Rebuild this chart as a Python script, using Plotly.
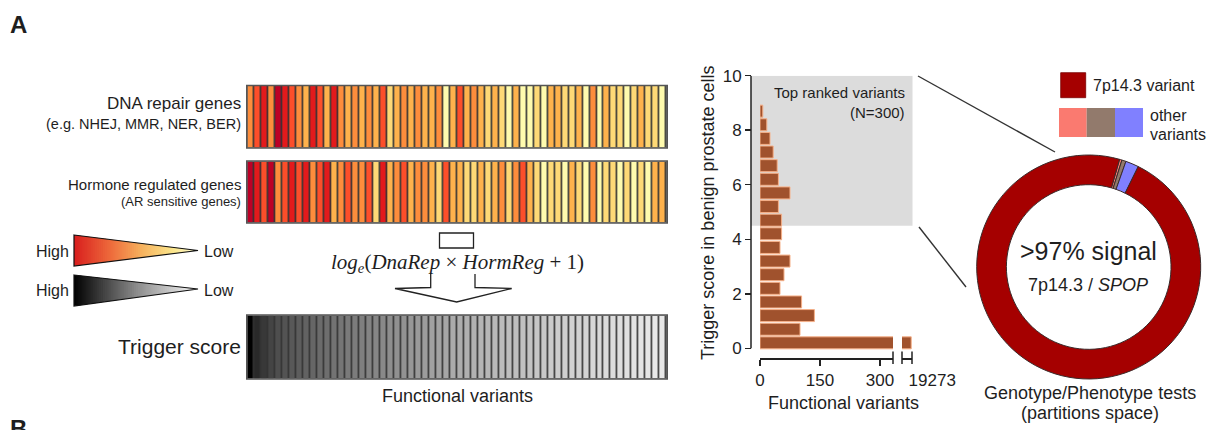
import plotly.graph_objects as go

W, H = 1220, 430

# ---------------- data ----------------
# heat levels: 1 = low (pale yellow) ... 7 = high (dark red)
dna_repair_levels = [4, 5, 6, 4, 7, 6, 5, 4, 3, 6,
                     5, 3, 6, 4, 3, 4, 3, 4, 3, 5,
                     2, 3, 4, 3, 4, 3, 3, 4, 1, 3,
                     5, 3, 4, 3, 2, 3, 2, 1, 3, 1,
                     1, 2, 1, 3, 3, 2, 2, 3, 1, 4,
                     1, 3, 2, 2, 1, 2, 3, 2, 2, 1]
hormone_levels = [7, 6, 5, 7, 4, 5, 6, 5, 6, 4,
                  5, 6, 3, 4, 5, 4, 4, 5, 2, 6,
                  3, 4, 5, 3, 4, 4, 3, 2, 5, 3,
                  3, 2, 2, 3, 2, 3, 4, 2, 4, 5,
                  3, 2, 1, 2, 2, 1, 3, 2, 1, 4,
                  1, 2, 2, 1, 2, 1, 2, 1, 3, 3]
trigger_scores = [10.0, 8.3, 7.7, 7.2, 6.8, 6.6, 6.4, 6.2, 6.0, 5.8,
                  5.6, 5.5, 5.3, 5.2, 5.0, 4.9, 4.8, 4.6, 4.5, 4.4,
                  4.2, 4.1, 4.0, 3.8, 3.7, 3.6, 3.4, 3.3, 3.2, 3.0,
                  2.9, 2.8, 2.7, 2.6, 2.5, 2.4, 2.3, 2.2, 2.2, 2.1,
                  2.0, 1.9, 1.8, 1.7, 1.6, 1.5, 1.4, 1.4, 1.3, 1.2,
                  1.1, 1.0, 1.0, 0.9, 0.8, 0.7, 0.7, 0.6, 0.5, 0.5]

score_bins = [0.2, 0.7, 1.2, 1.7, 2.2, 2.7, 3.2, 3.7, 4.2,
              4.7, 5.2, 5.7, 6.2, 6.7, 7.2, 7.7, 8.2, 8.7]
variant_counts = [19273, 100, 136, 104, 50, 60, 75, 50, 54,
                  54, 46, 75, 46, 43, 33, 25, 17, 7]
bar_xticks = [0, 150, 300]
bar_break_tick = [19273]
bar_yticks = [0, 2, 4, 6, 8, 10]
top_ranked_from = 4.5
top_ranked_to = 10

donut_labels = ["other variant 1", "other variant 2", "other variant 3", "7p14.3 variant"]
donut_values = [0.35, 0.6, 1.9, 97.15]
donut_colors = ["#FA7A70", "#927A6C", "#8080FF", "#A50000"]

FONT = "Liberation Sans"
TXT = "#1e1e1e"


def fx(p):
    return p / W


def fy(p):
    return 1 - p / H


fig = go.Figure()

# ---------------- heat strips ----------------
heat_scale = [[0.0, "#FFFBAE"], [1 / 6, "#FED976"], [2 / 6, "#FEB24C"],
              [3 / 6, "#FD8D3C"], [4 / 6, "#FC4E2A"], [5 / 6, "#E31A1C"],
              [1.0, "#BD0026"]]
cells = list(range(1, len(dna_repair_levels) + 1))
GAP = 1.6
fig.add_trace(go.Heatmap(z=[dna_repair_levels], x=cells, y=[0], colorscale=heat_scale,
                         zmin=1, zmax=7, showscale=False, xgap=GAP, xaxis="x", yaxis="y"))
fig.add_trace(go.Heatmap(z=[hormone_levels], x=cells, y=[0], colorscale=heat_scale,
                         zmin=1, zmax=7, showscale=False, xgap=GAP, xaxis="x2", yaxis="y2"))
fig.add_trace(go.Heatmap(z=[trigger_scores], x=cells, y=[0],
                         colorscale=[[0, "#F4F4F4"], [1, "#000000"]],
                         zmin=0, zmax=10, showscale=False, xgap=GAP, xaxis="x3", yaxis="y3"))

# ---------------- bar chart (broken x axis) ----------------
bar_style = dict(orientation="h", y=score_bins, x=variant_counts, width=0.44,
                 marker=dict(color="#A0522D", line=dict(color="#F6B088", width=1)),
                 showlegend=False, hoverinfo="skip")
fig.add_trace(go.Bar(xaxis="x4", yaxis="y4", **bar_style))
fig.add_trace(go.Bar(xaxis="x5", yaxis="y4", **bar_style))

# ---------------- donut ----------------
fig.add_trace(go.Pie(labels=donut_labels, values=donut_values, hole=0.735, sort=False,
                     direction="clockwise", rotation=16, textinfo="none",
                     marker=dict(colors=donut_colors, line=dict(color="#3a2a2a", width=1)),
                     domain=dict(x=[fx(976.7), fx(1200.7)], y=[fy(379), fy(155)]),
                     showlegend=False, hoverinfo="skip"))

hidden = dict(visible=False, fixedrange=True, automargin=False)
strip_x = [fx(247.3), fx(666.7)]
n = len(cells)
layout_axes = dict(
    xaxis=dict(domain=strip_x, range=[0.5, n + 0.5], anchor="y", **hidden),
    yaxis=dict(domain=[fy(147.5), fy(86)], range=[-0.5, 0.5], anchor="x", **hidden),
    xaxis2=dict(domain=strip_x, range=[0.5, n + 0.5], anchor="y2", **hidden),
    yaxis2=dict(domain=[fy(222.5), fy(161.5)], range=[-0.5, 0.5], anchor="x2", **hidden),
    xaxis3=dict(domain=strip_x, range=[0.5, n + 0.5], anchor="y3", **hidden),
    yaxis3=dict(domain=[fy(378.5), fy(315.5)], range=[-0.5, 0.5], anchor="x3", **hidden),
)

tickfont = dict(family=FONT, size=17, color=TXT)
y0px, y10px = 348.3, 75.7
unit = (y0px - y10px) / 10
xline_px = 358
y_low = -(xline_px - y0px) / unit

layout_axes.update(
    xaxis4=dict(domain=[fx(760), fx(893)], range=[0, 332.5], anchor="y4",
                showline=True, linecolor="#222", linewidth=1.5,
                ticks="outside", ticklen=6, tickwidth=1.5, tickcolor="#222",
                tickvals=bar_xticks, tickfont=tickfont, showgrid=False, zeroline=False,
                fixedrange=True, automargin=False),
    xaxis5=dict(domain=[fx(902), fx(912)], range=[19249, 19275], anchor="y4",
                showline=True, linecolor="#222", linewidth=1.5,
                ticks="", tickvals=bar_break_tick, ticktext=[str(v) for v in bar_break_tick],
                tickfont=tickfont, ticklabelshift=21, ticklabelstandoff=6,
                showgrid=False, zeroline=False, fixedrange=True, automargin=False),
    yaxis4=dict(domain=[fy(xline_px), fy(y10px)], range=[y_low, 10], anchor="free",
                position=fx(751), showline=False,
                ticks="outside", ticklen=6, tickwidth=1.5, tickcolor="#222",
                tickvals=bar_yticks, tickfont=tickfont, showgrid=False, zeroline=False,
                fixedrange=True, automargin=False),
)

shapes = []

# strip backgrounds (cell separators) and outlines
for (top, bot) in [(86, 147.5), (161.5, 222.5), (315.5, 378.5)]:
    shapes.append(dict(type="rect", xref="paper", yref="paper", layer="below",
                       x0=fx(247.3), x1=fx(666.7), y0=fy(bot), y1=fy(top),
                       fillcolor="#353535", line=dict(width=0)))
    shapes.append(dict(type="rect", xref="paper", yref="paper", layer="above",
                       x0=fx(246.8), x1=fx(667.2), y0=fy(bot + 0.5), y1=fy(top - 0.5),
                       fillcolor="rgba(0,0,0,0)", line=dict(color="#555", width=1.6)))

# gray "top ranked" region
shapes.append(dict(type="rect", xref="paper", yref="y4", layer="below",
                   x0=fx(751), x1=fx(912.5), y0=top_ranked_from, y1=top_ranked_to,
                   fillcolor="#DCDCDC", line=dict(width=0)))
# y axis spine from 0 to 10
shapes.append(dict(type="line", xref="paper", yref="y4", x0=fx(751), x1=fx(751),
                   y0=min(bar_yticks), y1=max(bar_yticks), line=dict(color="#222", width=1.5)))
# axis break marks
for bx in (893, 902, 912):
    shapes.append(dict(type="line", xref="paper", yref="paper", x0=fx(bx), x1=fx(bx),
                       y0=fy(351.5), y1=fy(364), line=dict(color="#222", width=1.5)))

# connector lines
shapes.append(dict(type="line", xref="paper", yref="paper", x0=fx(918), y0=fy(76),
                   x1=fx(1055), y1=fy(152), line=dict(color="#333", width=1.4)))
shapes.append(dict(type="line", xref="paper", yref="paper", x0=fx(919), y0=fy(227),
                   x1=fx(966), y1=fy(287), line=dict(color="#333", width=1.4)))


# gradient triangles
def hex2rgb(h):
    h = h.lstrip("#")
    return [int(h[i:i + 2], 16) for i in (0, 2, 4)]


def interp(stops, t):
    for i in range(len(stops) - 1):
        t0, c0 = stops[i]
        t1, c1 = stops[i + 1]
        if t0 <= t <= t1:
            a = (t - t0) / (t1 - t0)
            r0, r1 = hex2rgb(c0), hex2rgb(c1)
            return "rgb(%d,%d,%d)" % tuple(round(r0[k] + (r1[k] - r0[k]) * a) for k in range(3))
    return stops[-1][1]


def triangle(xl, yt, yb, xt, yt_tip, stops, nseg=60):
    out = []
    for i in range(nseg):
        a0, a1 = i / nseg, min(1, (i + 1.6) / nseg)
        xa, xb = xl + (xt - xl) * a0, xl + (xt - xl) * a1
        ta, tb = yt + (yt_tip - yt) * a0, yt + (yt_tip - yt) * a1
        ba, bb = yb + (yt_tip - yb) * a0, yb + (yt_tip - yb) * a1
        path = "M %f,%f L %f,%f L %f,%f L %f,%f Z" % (fx(xa), fy(ta), fx(xb), fy(tb),
                                                       fx(xb), fy(bb), fx(xa), fy(ba))
        out.append(dict(type="path", xref="paper", yref="paper", path=path,
                        fillcolor=interp(stops, (i + 0.5) / nseg), line=dict(width=0)))
    path = "M %f,%f L %f,%f L %f,%f Z" % (fx(xl), fy(yt), fx(xt), fy(yt_tip), fx(xl), fy(yb))
    out.append(dict(type="path", xref="paper", yref="paper", path=path,
                    fillcolor="rgba(0,0,0,0)", line=dict(color="#111", width=1.2)))
    return out


red_stops = [(0, "#D81E1E"), (0.3, "#EE6C3C"), (0.55, "#F6B25E"), (0.8, "#FBE68C"), (1, "#FFFCD8")]
gray_stops = [(0, "#000000"), (0.5, "#8A8A8A"), (1, "#FAFAFA")]
shapes += triangle(74, 235, 266, 198, 250.5, red_stops)
shapes += triangle(74, 275, 306, 198, 289, gray_stops)

# formula box and hollow arrow
shapes.append(dict(type="rect", xref="paper", yref="paper", x0=fx(439.5), x1=fx(473.5),
                   y0=fy(248), y1=fy(233), fillcolor="white", line=dict(color="#222", width=1.3)))
arrow = [(430.7, 274), (430.7, 287.5), (395, 288.5), (456.7, 302), (511.7, 288.5),
         (475, 287.5), (475, 274)]
shapes.append(dict(type="path", xref="paper", yref="paper",
                   path="M " + " L ".join("%f,%f" % (fx(a), fy(b)) for a, b in arrow),
                   fillcolor="white", line=dict(color="#222", width=1.3)))

# custom legend swatches
shapes.append(dict(type="rect", xref="paper", yref="paper", x0=fx(1060.7), x1=fx(1085.7),
                   y0=fy(97.7), y1=fy(72.7), fillcolor=donut_colors[3], line=dict(color="#7a0000", width=0.8)))
for (x0, x1, c) in [(1059, 1086.7, donut_colors[0]), (1086.7, 1115, donut_colors[1]),
                    (1115, 1143, donut_colors[2])]:
    shapes.append(dict(type="rect", xref="paper", yref="paper", x0=fx(x0), x1=fx(x1),
                       y0=fy(137), y1=fy(108), fillcolor=c, line=dict(width=0)))


def ann(text, x, y, size, xanchor="center", bold=False, family=FONT, angle=0):
    return dict(text=("<b>%s</b>" % text) if bold else text, x=fx(x), y=fy(y),
                xref="paper", yref="paper", showarrow=False, xanchor=xanchor, yanchor="middle",
                font=dict(family=family, size=size, color=TXT), textangle=angle)


annotations = [
    ann("A", 18, 25, 24, bold=True),
    ann("B", 18, 428, 24, bold=True),
    ann("DNA repair genes", 243, 104, 17, xanchor="right"),
    ann("(e.g. NHEJ, MMR, NER, BER)", 243, 124, 14.5, xanchor="right"),
    ann("Hormone regulated genes", 243, 184, 15, xanchor="right"),
    ann("(AR sensitive genes)", 243, 201, 13, xanchor="right"),
    ann("High", 71, 251, 16, xanchor="right"),
    ann("Low", 202, 251, 16, xanchor="left"),
    ann("High", 71, 290, 16, xanchor="right"),
    ann("Low", 202, 290, 16, xanchor="left"),
    ann("<i>log</i><sub><i>e</i></sub>(<i>DnaRep</i> × <i>HormReg</i> + 1)", 457, 263, 21,
        family="Liberation Serif"),
    ann("Trigger score", 243, 346, 21, xanchor="right"),
    ann("Functional variants", 457, 396, 18),
    ann("Trigger score in benign prostate cells", 708, 213, 18, angle=-90),
    ann("Top ranked variants", 907, 92, 15, xanchor="right"),
    ann("(N=300)", 907, 113, 15, xanchor="right"),
    ann("Functional variants", 843, 403, 18),
    ann("7p14.3 variant", 1091, 85, 16, xanchor="left"),
    ann("other", 1148, 115, 16, xanchor="left"),
    ann("variants", 1148, 134, 16, xanchor="left"),
    ann("&gt;97% signal", 1088, 251, 25),
    ann("7p14.3 / <i>SPOP</i>", 1088, 285, 18),
    ann("Genotype/Phenotype tests", 1090, 393, 18),
    ann("(partitions space)", 1090, 413, 18),
]

fig.update_layout(
    template="none",
    width=W, height=H, margin=dict(l=0, r=0, t=0, b=0, autoexpand=False),
    paper_bgcolor="white", plot_bgcolor="rgba(0,0,0,0)",
    showlegend=False, barmode="overlay",
    font=dict(family=FONT, color=TXT),
    shapes=shapes, annotations=annotations,
    **layout_axes,
)

fig.write_html("out.html", config={"displayModeBar": False, "staticPlot": True})
